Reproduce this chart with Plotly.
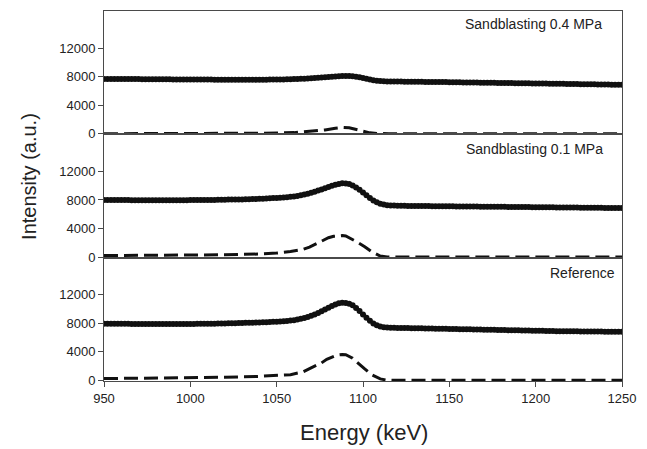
import plotly.graph_objects as go
from plotly.subplots import make_subplots

# ---------------- data ----------------
energy = list(range(950, 1251, 2))  # keV, measured channels

top_solid = [  # Sandblasting 0.4 MPa, measured spectrum
    7680, 7680, 7670, 7670, 7670, 7660, 7660, 7660, 7650, 7650,
    7650, 7640, 7640, 7640, 7630, 7630, 7630, 7620, 7620, 7620,
    7610, 7610, 7610, 7600, 7600, 7600, 7590, 7590, 7590, 7580,
    7580, 7580, 7570, 7570, 7570, 7570, 7560, 7560, 7560, 7560,
    7560, 7560, 7560, 7560, 7560, 7570, 7570, 7570, 7580, 7580,
    7590, 7600, 7610, 7620, 7630, 7650, 7670, 7690, 7710, 7740,
    7770, 7800, 7830, 7870, 7910, 7950, 7990, 8030, 8060, 8090,
    8100, 8090, 8060, 8000, 7920, 7820, 7710, 7600, 7500, 7430,
    7380, 7350, 7330, 7320, 7310, 7300, 7300, 7290, 7290, 7280,
    7275, 7270, 7265, 7260, 7255, 7250, 7245, 7240, 7235, 7230,
    7222, 7215, 7208, 7200, 7193, 7186, 7179, 7172, 7165, 7158,
    7151, 7144, 7137, 7130, 7123, 7116, 7109, 7102, 7095, 7088,
    7081, 7074, 7067, 7060, 7053, 7046, 7039, 7032, 7025, 7018,
    7010, 7002, 6994, 6986, 6978, 6970, 6962, 6954, 6946, 6938,
    6930, 6922, 6914, 6906, 6898, 6890, 6882, 6874, 6866, 6858,
    6850,
]

mid_solid = [  # Sandblasting 0.1 MPa, measured spectrum
    8000, 8000, 7990, 7990, 7990, 7980, 7980, 7980, 7970, 7970,
    7970, 7970, 7960, 7960, 7960, 7960, 7960, 7960, 7960, 7960,
    7960, 7970, 7970, 7970, 7970, 7980, 7980, 7980, 7990, 7990,
    8000, 8000, 8010, 8020, 8030, 8040, 8050, 8060, 8070, 8075,
    8080, 8090, 8100, 8120, 8140, 8160, 8180, 8200, 8230, 8260,
    8290, 8320, 8350, 8390, 8440, 8500, 8570, 8660, 8760, 8870,
    9000, 9150, 9310, 9480, 9650, 9820, 9980, 10130, 10250, 10330,
    10320, 10220, 10030, 9760, 9420, 9040, 8650, 8270, 7940, 7680,
    7480, 7350, 7270, 7230, 7210, 7200,
    7180, 7175, 7170, 7165, 7160, 7155, 7150, 7145, 7140, 7135,
    7130, 7125, 7120, 7115, 7110, 7105, 7100, 7095, 7090, 7085,
    7080, 7075, 7070, 7065, 7060, 7055, 7050, 7045, 7040, 7035,
    7030, 7025, 7020, 7015, 7010, 7005, 7000, 6995, 6990, 6985,
    6980, 6975, 6970, 6965, 6960, 6955, 6950, 6945, 6940, 6935,
    6930, 6925, 6920, 6915, 6910, 6905, 6900, 6895, 6890, 6885,
    6880, 6878, 6876, 6874, 6870,
]

ref_solid = [  # Reference, measured spectrum
    7950, 7950, 7940, 7940, 7930, 7930, 7920, 7920, 7910, 7910,
    7900, 7900, 7900, 7900, 7890, 7890, 7890, 7890, 7890, 7890,
    7890, 7900, 7900, 7900, 7900, 7910, 7910, 7920, 7920, 7930,
    7930, 7940, 7950, 7960, 7970, 7980, 7990, 8000, 8020, 8030,
    8050, 8060, 8070, 8080, 8100, 8120, 8140, 8160, 8180, 8210,
    8230, 8260, 8290, 8330, 8380, 8440, 8520, 8620, 8740, 8880,
    9060, 9250, 9460, 9690, 9930, 10180, 10430, 10650, 10810, 10890,
    10860, 10740, 10520, 10150, 9720, 9250, 8780, 8350, 7980, 7720,
    7550, 7450, 7400, 7380, 7365, 7355,
    7350, 7340, 7330, 7320, 7310, 7300, 7290, 7280, 7270, 7260,
    7250, 7240, 7230, 7220, 7210, 7200, 7190, 7180, 7170, 7160,
    7150, 7140, 7130, 7120, 7110, 7100, 7090, 7080, 7070, 7060,
    7050, 7040, 7030, 7020, 7010, 7000, 6990, 6980, 6970, 6960,
    6950, 6940, 6930, 6920, 6910, 6900, 6895, 6890, 6885, 6880,
    6875, 6870, 6865, 6860, 6855, 6850, 6845, 6840, 6835, 6830,
    6825, 6820, 6815, 6810, 6800,
]

top_dash_e = [950, 1000, 1040, 1060, 1070, 1078, 1084, 1088, 1092, 1096, 1100, 1104, 1108, 1115, 1250]
top_dash = [0, 20, 60, 150, 300, 520, 760, 880, 820, 600, 330, 120, 30, 0, 0]

mid_dash_e = [950, 1000, 1020, 1040, 1050, 1058, 1065, 1069, 1073, 1077, 1080, 1083, 1086, 1088,
              1090, 1094, 1097, 1101, 1105, 1110, 1114, 1120, 1250]
mid_dash = [200, 260, 320, 420, 560, 780, 1060, 1390, 1850, 2310, 2700, 2900, 3000, 3000,
            2950, 2500, 2050, 1450, 750, 140, 20, 0, 0]

ref_dash_e = [950, 1000, 1020, 1040, 1050, 1058, 1065, 1069, 1073, 1076, 1079, 1082, 1085, 1088,
              1090, 1094, 1097, 1101, 1105, 1110, 1114, 1120, 1250]
ref_dash = [250, 350, 430, 560, 680, 800, 1170, 1630, 2000, 2450, 2950, 3300, 3550, 3630,
            3600, 3100, 2400, 1600, 800, 200, 30, 0, 0]

panel_labels = ["Sandblasting 0.4 MPa", "Sandblasting 0.1 MPa", "Reference"]
y_ticks = [0, 4000, 8000, 12000]
y_tick_text = ["0", "4000", "8000", "12000"]
x_ticks = [950, 1000, 1050, 1100, 1150, 1200, 1250]
x_tick_text = ["950", "1000", "1050", "1100", "1150", "1200", "1250"]

# ---------------- figure ----------------
FONT = "Liberation Sans, Arial, sans-serif"
INK = "#111111"
AXC = "#4a4a4a"

fig = make_subplots(rows=3, cols=1, shared_xaxes=True, vertical_spacing=0)

panels = [
    (top_solid, top_dash_e, top_dash),
    (mid_solid, mid_dash_e, mid_dash),
    (ref_solid, ref_dash_e, ref_dash),
]
for i, (solid, de, dv) in enumerate(panels, start=1):
    fig.add_trace(go.Scatter(x=de, y=dv, mode="lines",
                             line=dict(color=INK, width=3, dash="14px,6px"),
                             showlegend=False), row=i, col=1)
    fig.add_trace(go.Scatter(x=energy, y=solid, mode="lines+markers",
                             line=dict(color=INK, width=1.5),
                             marker=dict(color=INK, size=6),
                             showlegend=False), row=i, col=1)

for i in range(1, 4):
    fig.update_yaxes(row=i, col=1, range=[-90, 17200], tickvals=y_ticks,
                     ticktext=y_tick_text,
                     ticks="outside", ticklen=5, tickcolor=AXC,
                     showline=True, linecolor=AXC, linewidth=1, mirror=True,
                     showgrid=False, zeroline=False,
                     tickfont=dict(family=FONT, size=13, color="#222"))
    fig.update_xaxes(row=i, col=1, range=[950, 1250], tickvals=x_ticks,
                     ticktext=x_tick_text,
                     showline=True, linecolor=AXC, linewidth=1, mirror=True,
                     showgrid=False, zeroline=False,
                     ticks="outside" if i == 3 else "", ticklen=5, tickcolor=AXC,
                     showticklabels=(i == 3),
                     tickfont=dict(family=FONT, size=13, color="#222"))

ann_pos = [(0.966, 0.965), (0.968, 0.627), (0.99, 0.293)]
for txt, (ax, ay) in zip(panel_labels, ann_pos):
    fig.add_annotation(text=txt, xref="paper", yref="paper", x=ax, y=ay,
                       xanchor="right", yanchor="middle", showarrow=False,
                       font=dict(family=FONT, size=14, color="#222"))

fig.add_annotation(text="Intensity (a.u.)", xref="paper", yref="paper",
                   x=-0.145, y=0.554, textangle=-90, showarrow=False,
                   xanchor="center", yanchor="middle",
                   font=dict(family=FONT, size=20, color="#222"))
fig.add_annotation(text="Energy (keV)", xref="paper", yref="paper",
                   x=0.501, y=-0.1405, showarrow=False,
                   xanchor="center", yanchor="middle",
                   font=dict(family=FONT, size=22, color="#222"))

fig.update_layout(width=647, height=449,
                  margin=dict(l=104, r=25, t=11, b=68),
                  paper_bgcolor="white", plot_bgcolor="white")

fig.write_html("out.html")
